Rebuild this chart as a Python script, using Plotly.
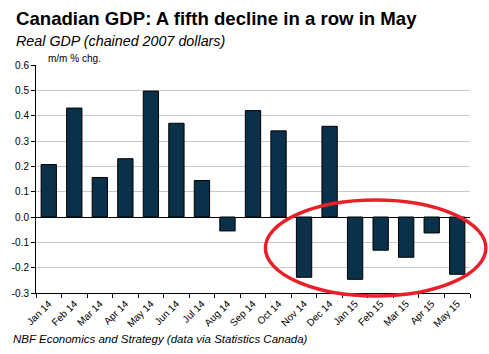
import plotly.graph_objects as go

months = ["Jan 14", "Feb 14", "Mar 14", "Apr 14", "May 14", "Jun 14", "Jul 14", "Aug 14",
          "Sep 14", "Oct 14", "Nov 14", "Dec 14", "Jan 15", "Feb 15", "Mar 15", "Apr 15", "May 15"]
gdp_change = [0.207, 0.43, 0.156, 0.23, 0.497, 0.37, 0.144, -0.055,
              0.42, 0.34, -0.238, 0.358, -0.246, -0.131, -0.159, -0.063, -0.226]
y_ticks = [0.6, 0.5, 0.4, 0.3, 0.2, 0.1, 0.0, -0.1, -0.2, -0.3]

fig = go.Figure()
fig.add_trace(go.Bar(
    x=months, y=gdp_change,
    marker=dict(color="#0b304a", line=dict(color="black", width=1)),
    width=0.6,
))

fig.update_layout(
    width=489, height=354,
    margin=dict(l=33, r=19, t=65, b=61),
    paper_bgcolor="white", plot_bgcolor="white",
    showlegend=False,
    font=dict(family="Liberation Sans, Arial, sans-serif", color="black"),
    xaxis=dict(
        type="category", tickangle=-45, tickfont=dict(size=10),
        showline=True, linecolor="black", linewidth=1,
        ticks="outside", ticklen=4, tickcolor="black", tickson="boundaries",
        showgrid=False, zeroline=False,
    ),
    yaxis=dict(
        range=[-0.3, 0.6], tickvals=y_ticks, ticktext=[f"{v:.1f}" for v in y_ticks],
        tickfont=dict(size=10),
        showline=True, linecolor="black", linewidth=1,
        ticks="outside", ticklen=4, tickcolor="black",
        showgrid=True, gridcolor="#c8c8c8", gridwidth=1,
        zeroline=True, zerolinecolor="black", zerolinewidth=1,
    ),
)


def px_x(px):
    return (px - 33) / (489 - 33 - 19)


def px_y(py):
    return (354 - 61 - py) / (354 - 65 - 61)


fig.add_annotation(text="<b>Canadian GDP: A fifth decline in a row in May</b>", xref="paper", yref="paper",
                   x=px_x(11), y=px_y(31), xanchor="left", yanchor="bottom", showarrow=False,
                   font=dict(size=18.6))
fig.add_annotation(text="<i>Real GDP (chained 2007 dollars)</i>", xref="paper", yref="paper",
                   x=px_x(11), y=px_y(51), xanchor="left", yanchor="bottom", showarrow=False,
                   font=dict(size=14.3))
fig.add_annotation(text="m/m % chg.", xref="paper", yref="paper",
                   x=px_x(43), y=px_y(66), xanchor="left", yanchor="bottom", showarrow=False,
                   font=dict(size=10))
fig.add_annotation(text="<i>NBF Economics and Strategy (data via Statistics Canada)</i>", xref="paper", yref="paper",
                   x=px_x(8), y=px_y(347), xanchor="left", yanchor="bottom", showarrow=False,
                   font=dict(size=11.5))

fig.add_shape(type="circle", xref="paper", yref="paper",
              x0=px_x(264), x1=px_x(486), y0=px_y(296), y1=px_y(200),
              line=dict(color="#e8202a", width=3.5))

fig.write_html("out.html")
